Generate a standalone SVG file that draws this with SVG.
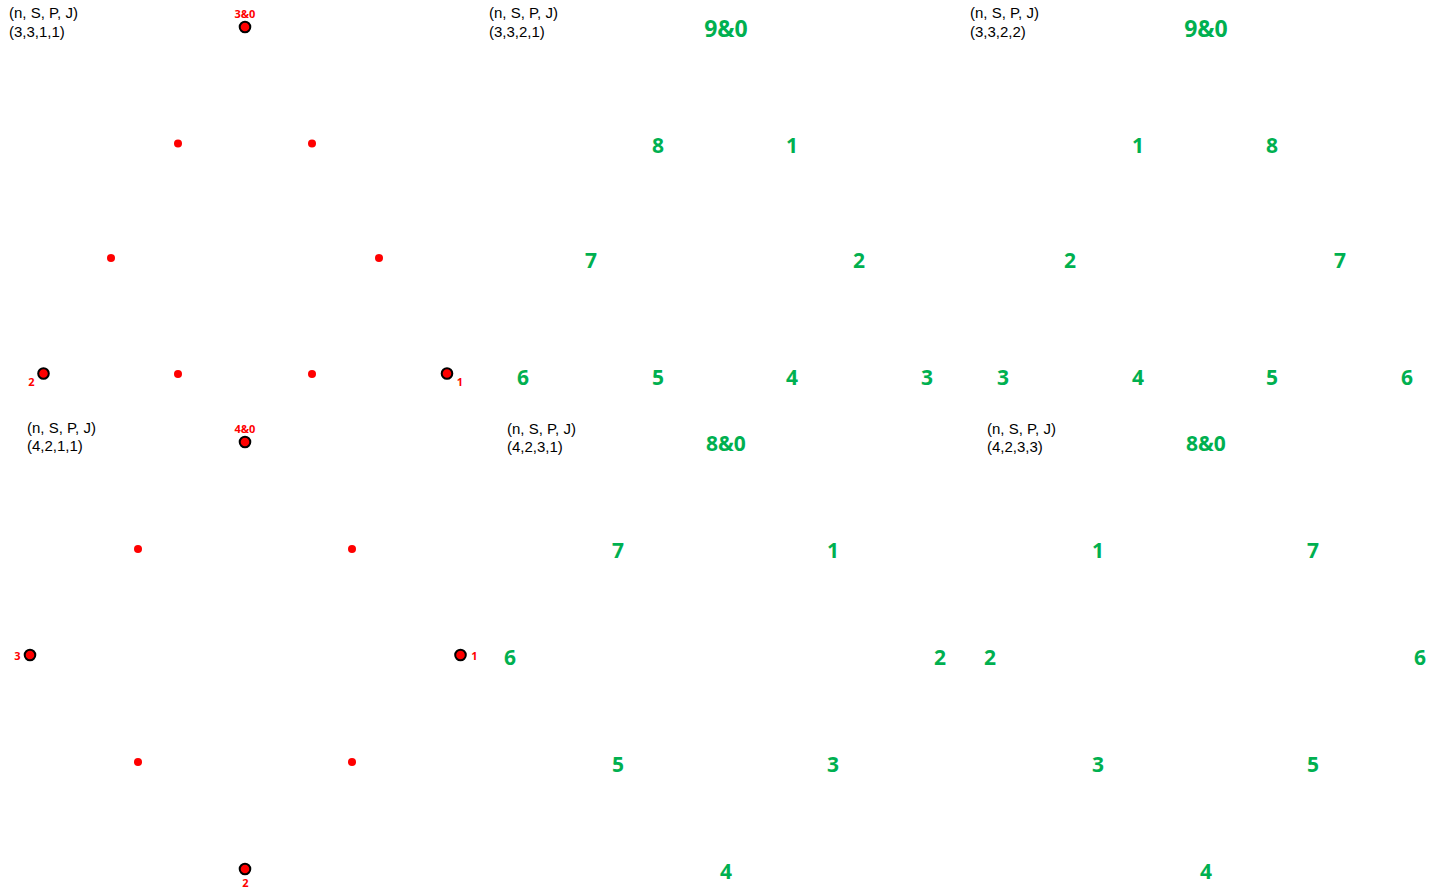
<svg xmlns="http://www.w3.org/2000/svg" width="1451" height="888" viewBox="0 0 1451 888">
<style>
.hdr{font-family:"Liberation Sans",Arial,sans-serif;font-size:15px;fill:#000}
.big{fill:#ff0000;stroke:#000;stroke-width:2}
.sm{fill:#ff0000}
.rl{font-family:"Open Sans","Noto Sans",sans-serif;font-weight:bold;font-size:11px;fill:#ff0000;text-anchor:middle}
.g{font-family:"Open Sans","Noto Sans",sans-serif;font-weight:bold;font-size:21px;fill:#00b050;text-anchor:middle}
.gt{font-family:"Open Sans","Noto Sans",sans-serif;font-weight:bold;font-size:23px;fill:#00b050;text-anchor:middle}
</style>
<rect width="1451" height="888" fill="#fff"/>
<g id="connectors"></g>

<g id="panel-3311">
<text class="hdr" x="9" y="18">(n, S, P, J)</text>
<text class="hdr" x="9" y="37">(3,3,1,1)</text>
<g id="p1-top"><circle class="big" cx="245" cy="27" r="5.3"/><text class="rl" x="245" y="18">3&amp;0</text></g>
<g id="p1-left"><circle class="big" cx="43.5" cy="373.5" r="5.3"/><text class="rl" x="31.5" y="386">2</text></g>
<g id="p1-right"><circle class="big" cx="447" cy="373.5" r="5.3"/><text class="rl" x="460" y="386">1</text></g>
<circle class="sm" cx="178" cy="143.5" r="4"/>
<circle class="sm" cx="312" cy="143.5" r="4"/>
<circle class="sm" cx="111" cy="258" r="4"/>
<circle class="sm" cx="379" cy="258" r="4"/>
<circle class="sm" cx="178" cy="374" r="4"/>
<circle class="sm" cx="312" cy="374" r="4"/>
</g>

<g id="panel-3321">
<text class="hdr" x="489" y="18">(n, S, P, J)</text>
<text class="hdr" x="489" y="37">(3,3,2,1)</text>
<text class="gt" x="726" y="37">9&amp;0</text>
<text class="g" x="658" y="153">8</text>
<text class="g" x="792" y="153">1</text>
<text class="g" x="591" y="268">7</text>
<text class="g" x="859" y="268">2</text>
<text class="g" x="523" y="385">6</text>
<text class="g" x="658" y="385">5</text>
<text class="g" x="792" y="385">4</text>
<text class="g" x="927" y="385">3</text>
</g>

<g id="panel-3322">
<text class="hdr" x="970" y="18">(n, S, P, J)</text>
<text class="hdr" x="970" y="37">(3,3,2,2)</text>
<text class="gt" x="1206" y="37">9&amp;0</text>
<text class="g" x="1138" y="153">1</text>
<text class="g" x="1272" y="153">8</text>
<text class="g" x="1070" y="268">2</text>
<text class="g" x="1340" y="268">7</text>
<text class="g" x="1003" y="385">3</text>
<text class="g" x="1138" y="385">4</text>
<text class="g" x="1272" y="385">5</text>
<text class="g" x="1407" y="385">6</text>
</g>

<g id="panel-4211">
<text class="hdr" x="27" y="433">(n, S, P, J)</text>
<text class="hdr" x="27" y="451">(4,2,1,1)</text>
<g id="p4-top"><circle class="big" cx="245" cy="442" r="5.3"/><text class="rl" x="245" y="433">4&amp;0</text></g>
<g id="p4-left"><circle class="big" cx="30" cy="655" r="5.3"/><text class="rl" x="17.5" y="660">3</text></g>
<g id="p4-right"><circle class="big" cx="460.5" cy="655" r="5.3"/><text class="rl" x="474.5" y="660">1</text></g>
<g id="p4-bottom"><circle class="big" cx="245" cy="869" r="5.3"/><text class="rl" x="245.5" y="887">2</text></g>
<circle class="sm" cx="138" cy="549" r="4"/>
<circle class="sm" cx="352" cy="549" r="4"/>
<circle class="sm" cx="138" cy="762" r="4"/>
<circle class="sm" cx="352" cy="762" r="4"/>
</g>

<g id="panel-4231">
<text class="hdr" x="507" y="434">(n, S, P, J)</text>
<text class="hdr" x="507" y="452">(4,2,3,1)</text>
<text class="g" x="726" y="451">8&amp;0</text>
<text class="g" x="618" y="558">7</text>
<text class="g" x="833" y="558">1</text>
<text class="g" x="510" y="665">6</text>
<text class="g" x="940" y="665">2</text>
<text class="g" x="618" y="772">5</text>
<text class="g" x="833" y="772">3</text>
<text class="g" x="726" y="879">4</text>
</g>

<g id="panel-4233">
<text class="hdr" x="987" y="434">(n, S, P, J)</text>
<text class="hdr" x="987" y="452">(4,2,3,3)</text>
<text class="g" x="1206" y="451">8&amp;0</text>
<text class="g" x="1098" y="558">1</text>
<text class="g" x="1313" y="558">7</text>
<text class="g" x="990" y="665">2</text>
<text class="g" x="1420" y="665">6</text>
<text class="g" x="1098" y="772">3</text>
<text class="g" x="1313" y="772">5</text>
<text class="g" x="1206" y="879">4</text>
</g>
</svg>
